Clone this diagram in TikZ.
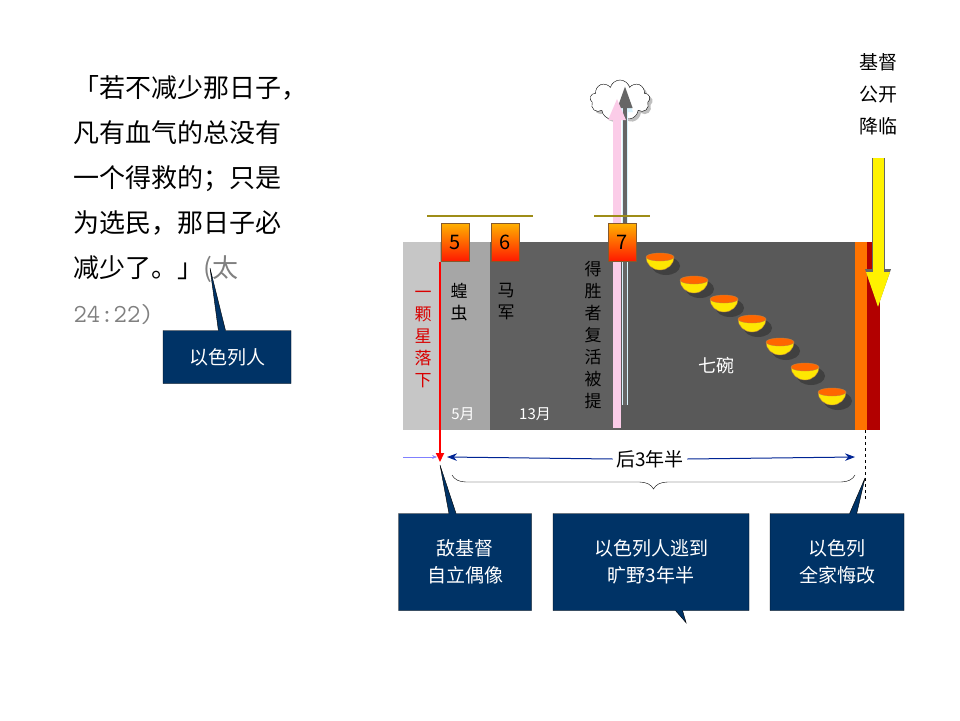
\documentclass[tikz,border=0pt]{standalone}
\usepackage{fontspec}
\setmainfont{Noto Sans CJK SC}
\usetikzlibrary{arrows.meta,shapes.callouts,shapes.symbols,decorations.pathreplacing,shadows}
\definecolor{navy}{HTML}{003366}
\begin{document}
\begin{tikzpicture}[x=1pt,y=-1pt,
 callbox/.style={rectangle callout,draw=black,fill=navy,text=white,font=\fontsize{19}{27}\selectfont,align=center,inner sep=0pt},
 banner/.style={draw=brown!70!black,top color=orange!60!yellow,bottom color=red!80!orange,minimum width=28pt,minimum height=38pt,inner sep=0pt,font=\fontsize{20}{20}\selectfont},
 bowl/.style={draw=brown,fill=yellow!90!orange},
 vtext/.style={align=center,font=\fontsize{17}{22}\selectfont}]
\useasboundingbox (0,0) rectangle (960,720);
% panels
\fill[gray!45] (403,242) rectangle (440,430);
\fill[gray!70] (440,242) rectangle (490,430);
\fill[gray!75!black] (490,242) rectangle (620,430);
\fill[black!65] (620,242) rectangle (855,430);
\fill[orange!90!red] (855,242) rectangle (867,430);
\fill[red!70!black] (867,242) rectangle (880,430);
% quote
\node[anchor=north west,align=left,font=\fontsize{26}{45}\selectfont] (q) at (70,72)
 {「若不减少那日子，\\凡有血气的总没有\\一个得救的；只是\\为选民，那日子必\\减少了。」\textcolor{gray}{(太}\\\textcolor{gray}{\ttfamily 24:22)}};
\node[callbox,minimum width=128pt,minimum height=53pt,callout absolute pointer={(210,268)}] (isr) at (227,357) {以色列人};
% texts in panels
\node[vtext,text=red!85!black] (star) at (423,340) {一\\颗\\星\\落\\下};
\node[vtext] (locust) at (459,302) {蝗\\虫};
\node[vtext] (horse) at (506,302) {马\\军};
\node[vtext] (rapt) at (593,335) {得\\胜\\者\\复\\活\\被\\提};
\node[text=white,font=\fontsize{15}{15}\selectfont] (m5) at (463,414) {5月};
\node[text=white,font=\fontsize{15}{15}\selectfont] (m13) at (535,414) {13月};
\node[text=white,font=\fontsize{18}{18}\selectfont] (bowls) at (716,366) {七碗};
% cloud and arrows up
\node[cloud,cloud puffs=9,draw,fill=white,minimum width=60pt,minimum height=40pt,drop shadow] (cl) at (620,100) {};
\coordinate (pb) at (617,428); \coordinate (pt) at (617,98);
\coordinate (bb) at (625,405); \coordinate (bt) at (625,90);
\draw[-{Triangle[length=22pt,width=14pt,fill=cyan!15]},line width=6pt,draw=cyan!15] (bb) -- (bt);
\draw[-{Triangle[length=22pt,width=14pt]},line width=4pt,draw=black!60] (bb) -- ([yshift=4pt]bt);
\draw[-{Triangle[length=22pt,width=16pt,fill=magenta!20]},line width=8pt,draw=magenta!20] (pb) -- (pt);
% banners
\foreach \n/\x in {5/455,6/505,7/622}{
 \draw[line width=1.5pt,draw=olive!70!brown] (\x-28,216) -- (\x+28,216);
 \node[banner] (b\n) at (\x,242) {\n};}
% red line
\coordinate (rs) at (440,262); \coordinate (re) at (440,462);
\draw[red,line width=2pt,-{Triangle[length=9pt,width=8pt]}] (rs) -- (re);
% bowls
\foreach \x/\y [count=\i] in {660/260,694/283,724/302,752/322,780/345,805/370,832/395}{
 \fill[black!75] (\x+6,\y+6) ellipse (14pt and 9pt);
 \draw[bowl] (\x-14,\y-3) arc[start angle=180,end angle=360,x radius=14pt,y radius=13pt] -- cycle;
 \draw[draw=brown,fill=orange!80!red] (\x,\y-3) ellipse (14pt and 4pt);
 \coordinate (bw\i) at (\x,\y);}
% yellow arrow
\coordinate (ys) at (878,158); \coordinate (ye) at (878,312);
\draw[line width=13pt,draw=black!60,-{Triangle[length=42pt,width=22pt]}] (ys) -- ([yshift=1pt]ye);
\draw[line width=11pt,draw=yellow,-{Triangle[length=40pt,width=20pt,fill=yellow]}] (ys) -- (ye);
\node[align=center,font=\fontsize{19}{32}\selectfont] (xc) at (878,94) {基督\\公开\\降临};
% timeline
\coordinate (l0) at (403,457); \coordinate (l1) at (437,457);
\draw[-{Stealth},draw=blue!50] (l0) -- (l1);
\node[font=\fontsize{19}{19}\selectfont,fill=white] (h35) at (650,459) {后3年半};
\coordinate (a1) at (447,457); \coordinate (a2) at (855,457);
\draw[navy!70!blue,line width=1pt,{Stealth[length=10pt]}-] (a1) -- (h35.west);
\draw[navy!70!blue,line width=1pt,-{Stealth[length=10pt]}] (h35.east) -- (a2);
\draw[dashed] (865,430) -- (865,500);
\draw[decorate,decoration={brace,amplitude=14pt,mirror}] (452,475) -- (855,475);
% bottom callouts
\node[callbox,minimum width=133pt,minimum height=97pt,callout absolute pointer={(440,465)}] (ac) at (465,562) {敌基督\\自立偶像};
\node[callbox,minimum width=196pt,minimum height=97pt] (fl) at (651,562) {以色列人逃到\\旷野3年半};
\node[callbox,minimum width=134pt,minimum height=97pt,callout absolute pointer={(865,478)}] (rp) at (837,562) {以色列\\全家悔改};
\end{tikzpicture}
\end{document}
